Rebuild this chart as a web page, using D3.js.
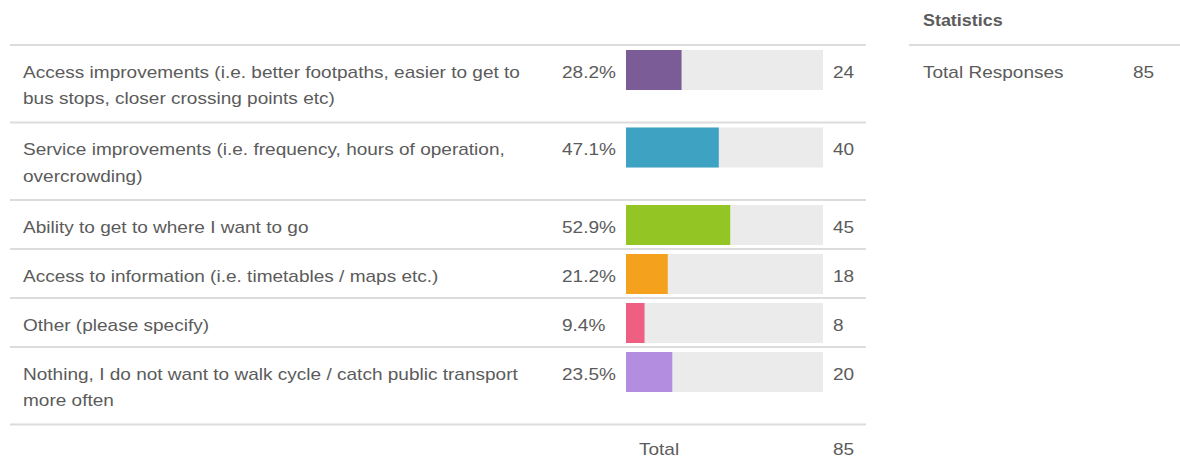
<!DOCTYPE html>
<html>
<head>
<meta charset="utf-8">
<script src="https://cdn.jsdelivr.net/npm/d3@7"></script>
<style>
  html, body { margin: 0; padding: 0; background: #fff; }
  svg { display: block; }
  text { font-family: "Liberation Sans", Arial, sans-serif; fill: #5b5b5b; }
</style>
</head>
<body>
<svg id="chart" width="1180" height="459"></svg>
<script>
// Survey answers, each split into the lines it wraps onto
const categories = [
  ["Access improvements (i.e. better footpaths, easier to get to", "bus stops, closer crossing points etc)"],
  ["Service improvements (i.e. frequency, hours of operation,", "overcrowding)"],
  ["Ability to get to where I want to go"],
  ["Access to information (i.e. timetables / maps etc.)"],
  ["Other (please specify)"],
  ["Nothing, I do not want to walk cycle / catch public transport", "more often"]
];
const percents = [28.2, 47.1, 52.9, 21.2, 9.4, 23.5];
const counts = [24, 40, 45, 18, 8, 20];
const barColors = ["#7b5c97", "#3ea3c3", "#93c524", "#f4a21d", "#ef5f82", "#b38de0"];
const totalLabel = "Total";
const totalCount = 85;
const statsTitle = "Statistics";
const statsLabel = "Total Responses";
const statsValue = 85;

const svg = d3.select("#chart");

// The typeface is set a little wide, so text is stretched horizontally
const FS = 17, SX = 1.12;
function addText(parent, x, y, lines, opts = {}) {
  const t = parent.append("text")
    .attr("transform", `translate(${x},${y}) scale(${SX},1)`)
    .attr("font-size", opts.size || FS)
    .attr("font-weight", opts.weight || null);
  const arr = Array.isArray(lines) ? lines : [lines];
  t.selectAll("tspan").data(arr).join("tspan")
    .attr("x", 0)
    .attr("y", (d, j) => j * 27)
    .text(d => d);
  return t;
}

// Layout of the response table
const tableLeft = 10, tableRight = 866, tableTop = 45;
const singleRow = 49, extraLine = 28.5;
const rowHeights = categories.map(c => singleRow + extraLine * (c.length - 1));
const rowTops = rowHeights.map((h, i) => tableTop + d3.sum(rowHeights.slice(0, i)));
const tableBottom = tableTop + d3.sum(rowHeights);

const x = d3.scaleLinear().domain([0, 100]).range([626, 823]);
const barH = 40, barOffset = 5, textBase = 32.5;

// Separator lines
const lineYs = [tableTop, ...rowTops.slice(1), tableBottom];
svg.selectAll("line.sep").data(lineYs).join("line")
  .attr("class", "sep")
  .attr("x1", tableLeft).attr("x2", tableRight)
  .attr("y1", d => d).attr("y2", d => d)
  .attr("stroke", "#dcdcdc").attr("stroke-width", 2);

const rows = svg.selectAll("g.row").data(categories).join("g")
  .attr("class", "row")
  .attr("transform", (d, i) => `translate(0,${rowTops[i]})`);

rows.each(function (d, i) {
  const g = d3.select(this);
  // Category label
  addText(g, 23, textBase, d);
  // Percentage
  addText(g, 562, textBase, percents[i].toFixed(1) + "%");
  // Background track
  g.append("rect")
    .attr("x", x(0)).attr("y", barOffset)
    .attr("width", x(100) - x(0)).attr("height", barH)
    .attr("fill", "#ebebeb");
  // Value bar
  g.append("rect")
    .attr("x", x(0)).attr("y", barOffset)
    .attr("width", x(percents[i]) - x(0)).attr("height", barH)
    .attr("fill", barColors[i]);
  // Count
  addText(g, 833, textBase, String(counts[i]));
});

// Total row, kept clear of the bottom edge
const totalBase = tableBottom + 30.5;
addText(svg, 639, totalBase, totalLabel);
addText(svg, 833, totalBase, String(totalCount));

// Statistics panel
addText(svg, 923, 26, statsTitle, { size: 16, weight: "bold" });
svg.append("line")
  .attr("x1", 909).attr("x2", 1180).attr("y1", 45).attr("y2", 45)
  .attr("stroke", "#dcdcdc").attr("stroke-width", 2);
addText(svg, 923, 78, statsLabel);
addText(svg, 1133, 78, String(statsValue));
</script>
</body>
</html>
